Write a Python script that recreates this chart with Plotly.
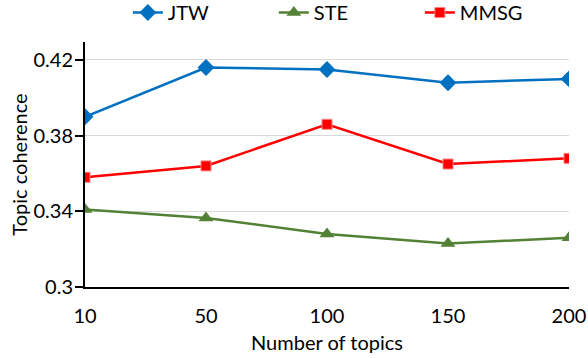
import plotly.graph_objects as go

topics = ["10", "50", "100", "150", "200"]
jtw = [0.390, 0.416, 0.415, 0.408, 0.410]
ste = [0.341, 0.3365, 0.328, 0.323, 0.326]
mmsg = [0.358, 0.364, 0.386, 0.365, 0.368]
y_ticks = [0.30, 0.34, 0.38, 0.42]
y_ticktext = ["0.3", "0.34", "0.38", "0.42"]

FONT = "Lato"
FS = 20
fig = go.Figure()
fig.add_trace(go.Scatter(x=topics, y=jtw, name="JTW", mode="lines+markers",
                         line=dict(color="#0070C0", width=2.5),
                         marker=dict(symbol="diamond", size=13, color="#0070C0")))
fig.add_trace(go.Scatter(x=topics, y=ste, name="STE", mode="lines+markers",
                         line=dict(color="#538135", width=2.5),
                         marker=dict(symbol="triangle-up", size=13, color="#538135")))
fig.add_trace(go.Scatter(x=topics, y=mmsg, name="MMSG", mode="lines+markers",
                         line=dict(color="#FF0000", width=2.5),
                         marker=dict(symbol="square", size=10, color="#FF0000",
                                     line=dict(color="#FF8080", width=1))))

fig.update_layout(
    width=588, height=358,
    margin=dict(l=85, r=19, t=42, b=71, autoexpand=False),
    paper_bgcolor="white", plot_bgcolor="white",
    font=dict(family=FONT, size=FS, color="black"),
    legend=dict(orientation="h", x=0.541, xanchor="center", y=1.2, yanchor="top",
                yref="paper", xref="paper", font=dict(size=FS), entrywidth=101,
                itemwidth=30, tracegroupgap=0, bgcolor="rgba(0,0,0,0)"),
    showlegend=True,
)
fig.update_xaxes(type="category", range=[0, 4], showline=True, linecolor="black",
                 linewidth=2, ticks="", showgrid=False, ticklabelstandoff=10,
                 automargin=False,
                 title=dict(text="Number of topics", font=dict(size=FS), standoff=10))
fig.update_yaxes(range=[0.3, 0.4295], tickvals=y_ticks, ticktext=y_ticktext,
                 showline=True, linecolor="black", linewidth=2, ticks="outside",
                 ticklen=8, tickwidth=1.5, tickcolor="black", showgrid=True,
                 gridcolor="#D9D9D9", gridwidth=1, zeroline=False, ticklabelstandoff=-2,
                 automargin=False,
                 title=dict(text="Topic coherence", font=dict(size=FS), standoff=0))
fig.write_html("out.html", config={"displayModeBar": False},
               post_script="document.body.style.margin='0';")
